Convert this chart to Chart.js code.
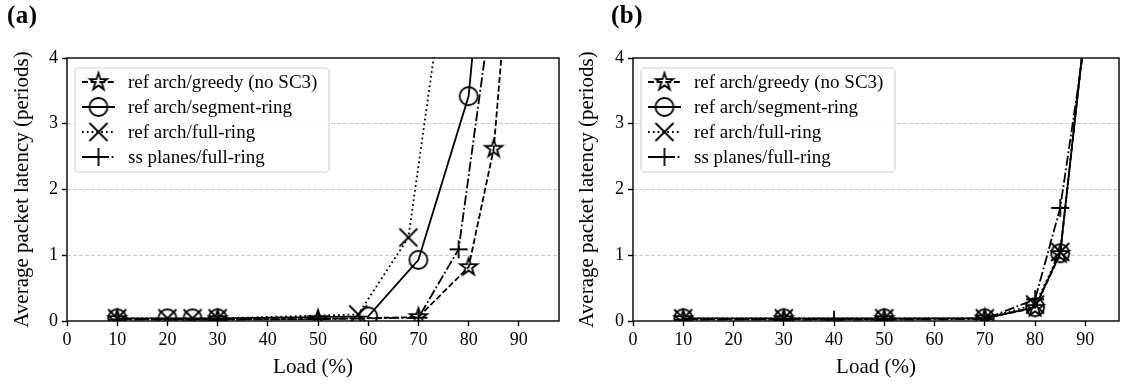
<!DOCTYPE html>
<html>
<head>
<meta charset="utf-8">
<script src="https://cdn.jsdelivr.net/npm/chart.js@4.4.1/dist/chart.umd.min.js"></script>
<style>
  html, body { margin: 0; padding: 0; background: #fff; }
  #wrap { position: relative; width: 1121px; height: 387px; overflow: hidden; }
  canvas { position: absolute; top: 0; }
  .tag { position: absolute; top: 1px; font: bold 25px "Liberation Serif", serif; color: #000; letter-spacing: 0.5px; }
</style>
</head>
<body>
<div id="wrap">
  <canvas id="ca" width="565" height="387" style="left:0"></canvas>
  <canvas id="cb" width="556" height="387" style="left:565px"></canvas>
  <div class="tag" style="left:7px">(a)</div>
  <div class="tag" style="left:611px">(b)</div>
</div>
<script>
// Series names (legend order)
const seriesNames = ['ref arch/greedy (no SC3)', 'ref arch/segment-ring', 'ref arch/full-ring', 'ss planes/full-ring'];

// Panel (a): load (%) and average packet latency (periods)
const loadA_greedy  = [10, 30, 50, 70, 80, 85, 90];
const latA_greedy   = [0.03, 0.03, 0.03, 0.06, 0.82, 2.62, 7.2];
const loadA_segment = [10, 20, 25, 30, 60, 70, 80, 85];
const latA_segment  = [0.04, 0.04, 0.04, 0.04, 0.07, 0.93, 3.42, 7.5];
const loadA_full    = [10, 20, 25, 30, 58, 68, 78];
const latA_full     = [0.04, 0.04, 0.04, 0.04, 0.10, 1.27, 6.7];
const loadA_ss      = [10, 30, 50, 70, 78, 85];
const latA_ss       = [0.02, 0.02, 0.03, 0.05, 1.09, 5.0];

// Panel (b)
const loadB_greedy  = [10, 30, 50, 70, 80, 85, 90];
const latB_greedy   = [0.03, 0.03, 0.03, 0.04, 0.20, 1.02, 4.5];
const loadB_segment = [10, 30, 50, 70, 80, 85, 90];
const latB_segment  = [0.04, 0.04, 0.04, 0.04, 0.21, 1.03, 4.5];
const loadB_full    = [10, 30, 50, 70, 80, 85, 90];
const latB_full     = [0.04, 0.04, 0.04, 0.04, 0.25, 1.05, 4.5];
const loadB_ss      = [10, 30, 40, 50, 70, 80, 85, 90];
const latB_ss       = [0.02, 0.02, 0.02, 0.02, 0.03, 0.33, 1.72, 4.3];

// Axis ticks
const xTicks = [0, 10, 20, 30, 40, 50, 60, 70, 80, 90];
const yTicks = [0, 1, 2, 3, 4];

const SERIF = '"Liberation Serif", "Times New Roman", serif';
const LW = 1.8;

// Open marker glyphs drawn once on small canvases
function makeMarker(kind) {
  const s = 24, c = s / 2, h = 9;
  const cv = document.createElement('canvas');
  cv.width = s; cv.height = s;
  const g = cv.getContext('2d');
  g.strokeStyle = '#000';
  g.lineWidth = LW;
  g.lineJoin = 'miter';
  g.beginPath();
  if (kind === 'star') {
    const ri = h * 0.382;
    for (let i = 0; i < 10; i++) {
      const r = i % 2 === 0 ? h : ri;
      const a = -Math.PI / 2 + i * Math.PI / 5;
      const px = c + r * Math.cos(a), py = c + r * Math.sin(a);
      if (i === 0) g.moveTo(px, py); else g.lineTo(px, py);
    }
    g.closePath();
  } else if (kind === 'circle') {
    g.arc(c, c, h, 0, Math.PI * 2);
  } else if (kind === 'x') {
    g.moveTo(c - h, c - h); g.lineTo(c + h, c + h);
    g.moveTo(c + h, c - h); g.lineTo(c - h, c + h);
  } else {
    g.moveTo(c - h, c); g.lineTo(c + h, c);
    g.moveTo(c, c - h); g.lineTo(c, c + h);
  }
  g.stroke();
  return cv;
}
const markers = [makeMarker('star'), makeMarker('circle'), makeMarker('x'), makeMarker('plus')];
const dashes = [[6, 2.6], [], [1.8, 3], [10, 2.6, 1.8, 2.6]];

function pairs(xs, ys) { return xs.map((x, i) => ({ x: x, y: ys[i] })); }

function makeDatasets(groups) {
  return groups.map((g, i) => ({
    label: seriesNames[i],
    data: pairs(g[0], g[1]),
    borderColor: '#000',
    backgroundColor: 'rgba(0,0,0,0)',
    borderWidth: LW,
    borderDash: dashes[i],
    pointStyle: markers[i],
    pointRadius: 9,
    pointHoverRadius: 9,
    fill: false,
    tension: 0,
    clip: 0
  }));
}

// Legend box and plot frame
const framePlugin = {
  id: 'frameLegend',
  afterDatasetsDraw(chart) {
    const ctx = chart.ctx, a = chart.chartArea;
    const bx = a.left + 8, by = a.top + 10, bw = 254, bh = 104, r = 4;
    ctx.save();
    ctx.beginPath();
    ctx.moveTo(bx + r, by);
    ctx.arcTo(bx + bw, by, bx + bw, by + bh, r);
    ctx.arcTo(bx + bw, by + bh, bx, by + bh, r);
    ctx.arcTo(bx, by + bh, bx, by, r);
    ctx.arcTo(bx, by, bx + bw, by, r);
    ctx.closePath();
    ctx.fillStyle = 'rgba(255,255,255,0.85)';
    ctx.fill();
    ctx.strokeStyle = '#d4d4d4';
    ctx.lineWidth = 1.2;
    ctx.stroke();
    chart.data.datasets.forEach((ds, i) => {
      const y = a.top + 24 + i * 25;
      const x0 = a.left + 15, x1 = a.left + 48;
      ctx.beginPath();
      ctx.setLineDash(ds.borderDash);
      ctx.strokeStyle = '#000';
      ctx.lineWidth = LW;
      ctx.moveTo(x0, y); ctx.lineTo(x1, y);
      ctx.stroke();
      ctx.setLineDash([]);
      const m = ds.pointStyle;
      ctx.drawImage(m, (x0 + x1) / 2 - m.width / 2, y - m.height / 2);
      ctx.fillStyle = '#000';
      ctx.font = '19px ' + SERIF;
      ctx.textBaseline = 'middle';
      ctx.textAlign = 'left';
      ctx.fillText(ds.label, a.left + 61, y + 1);
    });
    ctx.restore();
  },
  afterDraw(chart) {
    const ctx = chart.ctx, a = chart.chartArea;
    ctx.save();
    ctx.strokeStyle = '#000';
    ctx.lineWidth = 1.4;
    ctx.setLineDash([]);
    ctx.strokeRect(a.left, a.top, a.right - a.left, a.bottom - a.top);
    ctx.restore();
  }
};

function build(id, groups, xMax, yAxisWidth, padRight) {
  return new Chart(document.getElementById(id), {
    type: 'line',
    data: { datasets: makeDatasets(groups) },
    plugins: [framePlugin],
    options: {
      responsive: false,
      animation: false,
      events: [],
      layout: { autoPadding: false, padding: { top: 58, right: padRight, bottom: 0, left: 0 } },
      plugins: { legend: { display: false }, tooltip: { enabled: false } },
      scales: {
        x: {
          type: 'linear',
          min: 0,
          max: xMax,
          afterBuildTicks: (axis) => { axis.ticks = xTicks.map(v => ({ value: v })); },
          afterFit: (scale) => { scale.height = 66; scale.paddingLeft = 0; scale.paddingRight = 0; },
          ticks: { color: '#000', font: { family: SERIF, size: 18 }, padding: 3, maxRotation: 0, autoSkip: false },
          grid: { drawOnChartArea: false, tickLength: 5, tickColor: '#000', tickWidth: 1.4, tickBorderDash: [] },
          border: { display: false },
          title: { display: true, text: 'Load (%)', color: '#000', font: { family: SERIF, size: 21 }, padding: { top: 0, bottom: 7 } }
        },
        y: {
          min: 0,
          max: 4,
          afterBuildTicks: (axis) => { axis.ticks = yTicks.map(v => ({ value: v })); },
          afterFit: (scale) => { scale.width = yAxisWidth; scale.paddingTop = 0; scale.paddingBottom = 0; },
          ticks: { color: '#000', font: { family: SERIF, size: 18 }, padding: 4 },
          grid: {
            color: (c) => (c.tick && c.tick.value > 0 && c.tick.value < 4) ? '#c4c4c4' : 'rgba(0,0,0,0)',
            lineWidth: 0.9,
            tickLength: 5,
            tickColor: '#000',
            tickWidth: 1.4,
            tickBorderDash: []
          },
          border: { display: false, dash: [4, 2] },
          title: { display: true, text: 'Average packet latency (periods)', color: '#000', font: { family: SERIF, size: 21 }, padding: { top: 10, bottom: 0 } }
        }
      }
    }
  });
}

build('ca', [
  [loadA_greedy, latA_greedy],
  [loadA_segment, latA_segment],
  [loadA_full, latA_full],
  [loadA_ss, latA_ss]
], 98, 67, 6);

build('cb', [
  [loadB_greedy, latB_greedy],
  [loadB_segment, latB_segment],
  [loadB_full, latB_full],
  [loadB_ss, latB_ss]
], 96.7, 68, 2);
</script>
</body>
</html>
